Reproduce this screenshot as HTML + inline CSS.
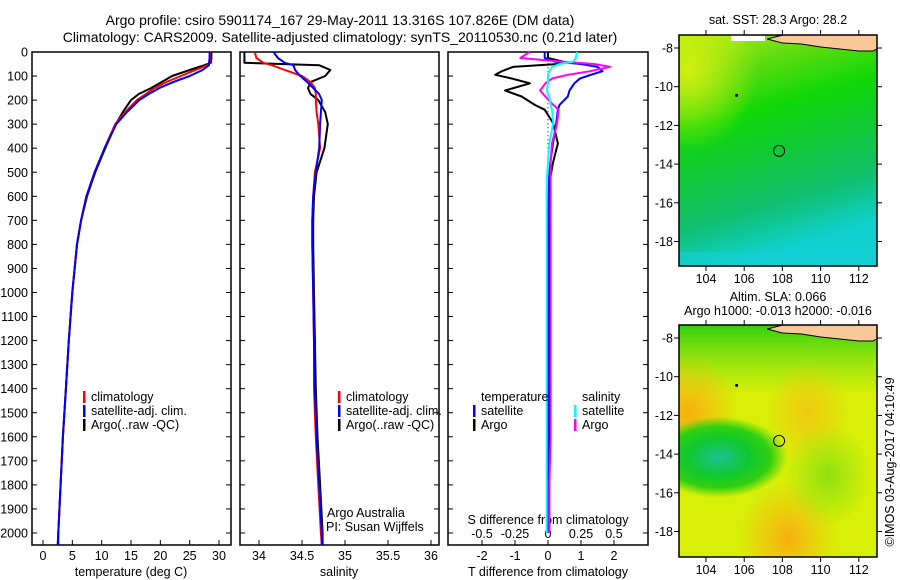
<!DOCTYPE html>
<html><head><meta charset="utf-8">
<style>
body{margin:0;background:#fff;}
svg{display:block;font-family:"Liberation Sans",sans-serif;}
text{font-size:12.5px;fill:#000;}
</style></head>
<body>
<svg width="900" height="580" viewBox="0 0 900 580" xmlns="http://www.w3.org/2000/svg">
<defs>
<linearGradient id="sstGrad" x1="0" y1="0" x2="0.25" y2="1">
<stop offset="0" stop-color="#b8ec10"/>
<stop offset="0.2" stop-color="#60dc10"/>
<stop offset="0.4" stop-color="#10d808"/>
<stop offset="0.6" stop-color="#10c838"/>
<stop offset="0.8" stop-color="#10c070"/>
<stop offset="1" stop-color="#10d0d0"/>
</linearGradient>
<radialGradient id="sstYellow" cx="0.05" cy="0.15" r="0.35"><stop offset="0" stop-color="#d0f010"/><stop offset="1" stop-color="#d0f010" stop-opacity="0"/></radialGradient>
<radialGradient id="slaOrange1" cx="0.05" cy="0.38" r="0.25"><stop offset="0" stop-color="#f8b010"/><stop offset="1" stop-color="#f8b010" stop-opacity="0"/></radialGradient>
<radialGradient id="slaOrange2" cx="0.55" cy="0.92" r="0.25"><stop offset="0" stop-color="#f8b010"/><stop offset="1" stop-color="#f8b010" stop-opacity="0"/></radialGradient>
<radialGradient id="slaOrange3" cx="0.65" cy="0.38" r="0.22"><stop offset="0" stop-color="#f0c810"/><stop offset="1" stop-color="#f0c810" stop-opacity="0"/></radialGradient>
<radialGradient id="slaGreen" cx="0.2" cy="0.57" r="0.35" gradientTransform="translate(0.2 0.57) scale(1 0.5) translate(-0.2 -0.57)"><stop offset="0" stop-color="#20c090"/><stop offset="0.45" stop-color="#10c830"/><stop offset="0.75" stop-color="#30d010"/><stop offset="1" stop-color="#30d010" stop-opacity="0"/></radialGradient>
<radialGradient id="slaLight" cx="0.75" cy="0.65" r="0.22"><stop offset="0" stop-color="#90e010"/><stop offset="1" stop-color="#90e010" stop-opacity="0"/></radialGradient>
<linearGradient id="slaTopGreen" x1="0" y1="0" x2="0" y2="1"><stop offset="0" stop-color="#30d010"/><stop offset="0.2" stop-color="#80e010" stop-opacity="0.5"/><stop offset="0.3" stop-color="#80e010" stop-opacity="0"/></linearGradient>
</defs>

<text x="340" y="25" text-anchor="middle" style="font-size:14px">Argo profile: csiro 5901174_167 29-May-2011 13.316S 107.826E (DM data)</text>
<text x="340" y="42" text-anchor="middle" style="font-size:14px">Climatology: CARS2009. Satellite-adjusted climatology: synTS_20110530.nc (0.21d later)</text>

<g id="p1"></g>
<g id="p2"></g>
<g id="p3"></g>
<g id="maps"></g>

<text transform="translate(894,462) rotate(-90)" text-anchor="middle">©IMOS 03-Aug-2017 04:10:49</text>
</svg>

<script>
const depths = [0,25,45,55,75,100,125,150,175,200,250,300,400,500,600,700,800,1000,1200,1400,1600,1800,2000,2050];
const tempClim = [28.5,28.5,28.4,28.0,26.0,23.5,21.0,19.0,17.5,16.0,14.0,12.3,10.5,8.8,7.4,6.5,5.8,5.0,4.4,3.9,3.4,3.0,2.6,2.5];
const tempSat  = [28.4,28.4,28.3,28.3,27.2,25.0,22.2,19.8,18.0,16.4,14.3,12.5,10.5,8.8,7.4,6.5,5.8,5.0,4.4,3.9,3.4,3.0,2.6,2.5];
const tempArgo = [28.7,28.7,28.6,27.5,25.0,22.0,20.2,18.4,16.3,15.0,13.6,12.4,10.6,8.9,7.5,6.5,5.8,5.0,4.4,3.9,3.4,3.0,2.6,2.6];
const salClim = [33.95,33.97,34.05,34.15,34.30,34.50,34.60,34.65,34.66,34.66,34.67,34.69,34.71,34.65,34.63,34.62,34.62,34.63,34.64,34.64,34.66,34.69,34.72,34.73];
const salSat  = [34.17,34.22,34.30,34.40,34.42,34.48,34.56,34.63,34.70,34.73,34.72,34.71,34.70,34.66,34.63,34.62,34.62,34.63,34.64,34.65,34.67,34.70,34.73,34.73];
const salArgo = [33.83,33.83,33.83,34.70,34.83,34.77,34.60,34.57,34.60,34.69,34.77,34.80,34.76,34.67,34.64,34.63,34.63,34.64,34.65,34.66,34.68,34.71,34.74,34.74];
const diffDepths = [0,25,40,50,62,80,95,110,130,160,185,220,240,295,380,460,530,600,800,1000,1400,1600,1800,2000];
const dTSat  = [-0.10,-0.10,0.20,1.00,1.50,1.65,1.30,0.97,0.80,0.65,0.60,0.35,0.30,0.25,0.15,0.07,0.03,0.02,0.0,0.0,0.0,0.0,0.0,0.0];
const dTArgo = [0.00,0.00,0.45,0.30,-1.06,-1.40,-1.60,-1.10,-0.55,-1.30,-0.80,-0.40,-0.10,0.15,0.30,0.15,0.06,0.05,0.04,0.03,0.02,0.03,0.04,0.04];
const dSSat  = [0.22,0.21,0.19,0.09,0.03,0.01,0.00,0.00,0.00,-0.01,0.01,0.02,0.03,0.04,0.01,0.00,-0.01,-0.01,-0.01,-0.01,-0.01,-0.01,-0.01,-0.01];
const dSArgo = [-0.14,-0.21,0.10,0.35,0.47,0.32,0.15,0.03,-0.02,-0.06,-0.02,0.04,0.08,0.07,0.03,0.02,0.02,0.02,0.02,0.02,0.02,0.02,0.01,0.01];
const depthTicks = [0,100,200,300,400,500,600,700,800,900,1000,1100,1200,1300,1400,1500,1600,1700,1800,1900,2000];
const tempTicks = [0,5,10,15,20,25,30];
const salTicks = [34,34.5,35,35.5,36];
const salTickLabels = ["34","34.5","35","35.5","36"];
const dTTicks = [-2,-1,0,1,2];
const dSTicks = [-0.5,-0.25,0,0.25,0.5];
const dSTickLabels = ["-0.5","-0.25","0","0.25","0.5"];
const lonTicks = [104,106,108,110,112];
const latTicks = [-8,-10,-12,-14,-16,-18];
const argoLon = 107.826, argoLat = -13.316;

const NS="http://www.w3.org/2000/svg";
function mk(parent,tag,attrs,txt){const e=document.createElementNS(NS,tag);for(const k in attrs)e.setAttribute(k,attrs[k]);if(txt!==undefined)e.textContent=txt;parent.appendChild(e);return e;}
const yTop=52, yBot=545;
const yD = d => yTop + d*0.2405;

function panelFrame(g,x0,x1){
  const r=mk(g,'rect',{x:x0,y:yTop,width:x1-x0,height:yBot-yTop,fill:'none',stroke:'#000','stroke-width':1.5});
  
  
  depthTicks.forEach(d=>{
    mk(g,'line',{x1:x0,x2:x0+5,y1:yD(d),y2:yD(d),stroke:'#000'});
    mk(g,'line',{x1:x1-5,x2:x1,y1:yD(d),y2:yD(d),stroke:'#000'});
  });
}
function line(g,xs,ds,xf,color,name,w){
  const pts=xs.map((v,i)=>xf(v).toFixed(1)+','+yD(ds[i]).toFixed(1)).join(' ');
  const p=mk(g,'polyline',{points:pts,fill:'none',stroke:color,'stroke-width':w||2,'stroke-linejoin':'round'});
  
  
}
function legend(g,x,y,color,label){
  mk(g,'rect',{x:x,y:y-10,width:2.5,height:12,fill:color});
  const t=mk(g,'text',{x:x+8,y:y},label);
  
  
}

const g1=document.getElementById('p1');
const xT = v => 43 + v*5.867;
panelFrame(g1,32,231);
depthTicks.forEach(d=>{const t=mk(g1,'text',{x:28,y:yD(d)+4.5,'text-anchor':'end'},String(d));
  
  });
tempTicks.forEach(v=>{mk(g1,'line',{x1:xT(v),x2:xT(v),y1:yBot,y2:yBot-5,stroke:'#000'});
  const t=mk(g1,'text',{x:xT(v),y:560,'text-anchor':'middle'},String(v));
  
  });
const xl1=mk(g1,'text',{x:131,y:576,'text-anchor':'middle'},'temperature (deg C)');


line(g1,tempArgo,depths,xT,'#000','temp-argo-line');
line(g1,tempClim,depths,xT,'#f00','temp-climatology-line');
line(g1,tempSat,depths,xT,'#00f','temp-satellite-line');
legend(g1,83,401,'#f00','climatology');
legend(g1,83,415,'#00f','satellite-adj. clim.');
legend(g1,83,429,'#000','Argo(..raw -QC)');

const g2=document.getElementById('p2');
const xS = v => 259 + (v-34)*86;
panelFrame(g2,240,439);
salTicks.forEach((v,i)=>{mk(g2,'line',{x1:xS(v),x2:xS(v),y1:yBot,y2:yBot-5,stroke:'#000'});
  const t=mk(g2,'text',{x:xS(v),y:560,'text-anchor':'middle'},salTickLabels[i]);
  
  });
const xl2=mk(g2,'text',{x:339,y:576,'text-anchor':'middle'},'salinity');


line(g2,salArgo,depths,xS,'#000','sal-argo-line');
line(g2,salClim,depths,xS,'#f00','sal-climatology-line');
line(g2,salSat,depths,xS,'#00f','sal-satellite-line');
legend(g2,338,401,'#f00','climatology');
legend(g2,338,415,'#00f','satellite-adj. clim.');
legend(g2,338,429,'#000','Argo(..raw -QC)');
const a1=mk(g2,'text',{x:327,y:517},'Argo Australia');


const a2=mk(g2,'text',{x:326,y:531},'PI: Susan Wijffels');



const g3=document.getElementById('p3');
const xdT = v => 548 + v*33;
const xdS = v => 548 + v*132;
panelFrame(g3,448,648);
dTTicks.forEach(v=>{mk(g3,'line',{x1:xdT(v),x2:xdT(v),y1:yBot,y2:yBot-5,stroke:'#000'});
  const t=mk(g3,'text',{x:xdT(v),y:560,'text-anchor':'middle'},String(v));
  
  });
dSTicks.forEach((v,i)=>{const t=mk(g3,'text',{x:xdS(v),y:538,'text-anchor':'middle'},dSTickLabels[i]);
  
  });
const xl3=mk(g3,'text',{x:548,y:576,'text-anchor':'middle'},'T difference from climatology');


const xl4=mk(g3,'text',{x:548,y:524,'text-anchor':'middle'},'S difference from climatology');


mk(g3,'line',{x1:548,x2:548,y1:yD(30),y2:yD(450),stroke:'#000','stroke-dasharray':'1,3'});
line(g3,dTArgo,diffDepths,xdT,'#000','t-diff-argo-line');
line(g3,dTSat,diffDepths,xdT,'#00f','t-diff-satellite-line');
line(g3,dSArgo,diffDepths,xdS,'#f0f','s-diff-argo-line');
line(g3,dSSat,diffDepths,xdS,'#0ff','s-diff-satellite-line');
const lt=mk(g3,'text',{x:481,y:401},'temperature');
const ls=mk(g3,'text',{x:582,y:401},'salinity');
legend(g3,473,415,'#00f','satellite');
legend(g3,473,429,'#000','Argo');
legend(g3,574,415,'#0ff','satellite');
legend(g3,574,429,'#f0f','Argo');

const gm=document.getElementById('maps');
const mx0=679,mx1=877;
const xLon = v => 706 + (v-104)*19.1;
function drawMap(top,bot,fillFn,title1,title2,name){
  const latY = v => top + 13 + (-8 - v)*19.35;
  const g=mk(gm,'g',{});
  
  
  fillFn(g,top,bot);
  const land=mk(g,'path',{d:`M${mx0+104},${top} L${xLon(107.2)},${top+4} L${xLon(108)},${top+8} L${xLon(109)},${top+9} L${xLon(110)},${top+12} L${xLon(111)},${top+14} L${xLon(112)},${top+16} L${mx1-4},${top+16} L${mx1},${top+14} L${mx1},${top} Z`,fill:'#f8c898',stroke:'#000','stroke-width':1});
  
  
  mk(g,'rect',{x:mx0,y:top,width:mx1-mx0,height:bot-top,fill:'none',stroke:'#000','stroke-width':1.5});
  const c=mk(g,'circle',{cx:xLon(argoLon),cy:latY(argoLat),r:5.5,fill:'none',stroke:'#000'});
  
  
  mk(g,'circle',{cx:xLon(105.6),cy:latY(-10.45),r:1.5,fill:'#000'});
  latTicks.forEach(v=>{mk(g,'line',{x1:mx0-5,x2:mx0,y1:latY(v),y2:latY(v),stroke:'#000'});
    mk(g,'line',{x1:mx1,x2:mx1+5,y1:latY(v),y2:latY(v),stroke:'#000'});
    const t=mk(g,'text',{x:mx0-6,y:latY(v)+4.5,'text-anchor':'end'},String(v));
    
    });
  lonTicks.forEach(v=>{mk(g,'line',{x1:xLon(v),x2:xLon(v),y1:top-5,y2:top,stroke:'#000'});
    mk(g,'line',{x1:xLon(v),x2:xLon(v),y1:bot,y2:bot+5,stroke:'#000'});
    const t=mk(g,'text',{x:xLon(v),y:bot+17,'text-anchor':'middle'},String(v));
    
    });
  const t1=mk(g,'text',{x:778,y:title2?top-24:top-11,'text-anchor':'middle'},title1);
  
  
  if(title2){const t2=mk(g,'text',{x:778,y:top-10,'text-anchor':'middle'},title2);
    
    }
}
drawMap(35,266,(g,top,bot)=>{
  mk(g,'rect',{x:mx0,y:top,width:mx1-mx0,height:bot-top,fill:'url(#sstGrad)'});
  mk(g,'rect',{x:mx0,y:top,width:mx1-mx0,height:bot-top,fill:'url(#sstYellow)'});
  mk(g,'rect',{x:mx0+52,y:top,width:34,height:6,fill:'#fff'});
  mk(g,'rect',{x:mx0,y:bot-14,width:mx1-mx0,height:14,fill:'#18d0d8',opacity:0.5});
},'sat. SST: 28.3 Argo: 28.2',null,'sst-map');
drawMap(325,557,(g,top,bot)=>{
  mk(g,'rect',{x:mx0,y:top,width:mx1-mx0,height:bot-top,fill:'#d8f008'});
  mk(g,'rect',{x:mx0,y:top,width:mx1-mx0,height:bot-top,fill:'url(#slaTopGreen)'});
  mk(g,'rect',{x:mx0,y:top,width:mx1-mx0,height:bot-top,fill:'url(#slaOrange1)'});
  mk(g,'rect',{x:mx0,y:top,width:mx1-mx0,height:bot-top,fill:'url(#slaOrange2)'});
  mk(g,'rect',{x:mx0,y:top,width:mx1-mx0,height:bot-top,fill:'url(#slaOrange3)'});
  mk(g,'rect',{x:mx0,y:top,width:mx1-mx0,height:bot-top,fill:'url(#slaLight)'});
  mk(g,'rect',{x:mx0,y:top,width:mx1-mx0,height:bot-top,fill:'url(#slaGreen)'});
},'Altim. SLA: 0.066','Argo h1000: -0.013 h2000: -0.016','sla-map');
</script>
</body></html>
